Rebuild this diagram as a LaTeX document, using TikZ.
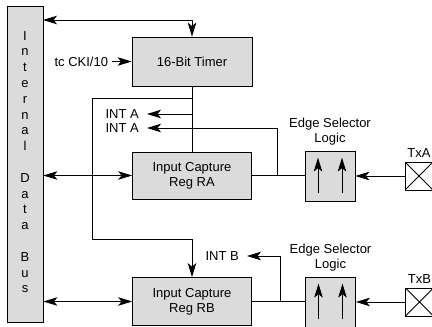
\documentclass[tikz,border=0pt]{standalone}
\usepackage{fontspec}
\setmainfont{Liberation Sans}
\usetikzlibrary{arrows.meta,positioning}

\begin{document}
\begin{tikzpicture}[x=1pt, y=-1pt,
    every node/.style={font=\fontsize{13}{15}\selectfont},
    block/.style={draw, fill=gray!28, line width=0.8pt, inner sep=0pt, align=center},
    padbox/.style={draw, line width=0.8pt, minimum size=28pt, inner sep=0pt,
        path picture={\draw (path picture bounding box.south west) -- (path picture bounding box.north east)
            (path picture bounding box.north west) -- (path picture bounding box.south east);}},
    wire/.style={line width=0.8pt},
    arr/.style={wire, -{Stealth[length=14pt, width=8.5pt, inset=3.5pt]}},
    biarr/.style={wire, {Stealth[length=14pt, width=8.5pt, inset=3.5pt]}-{Stealth[length=14pt, width=8.5pt, inset=3.5pt]}}]
    \useasboundingbox (0,0) rectangle (432,327);
    % internal data bus
    \node[block, minimum width=36pt, minimum height=316pt] (bus) at (25,164) {};
    \foreach \c [count=\i] in {I,n,t,e,r,n,a,l,,D,a,t,a,,B,u,s}
        \node[anchor=base] (bus-\i) at (25, {40+15.8*(\i-1)}) {\c};
    % timer and capture registers
    \node[block, minimum width=120pt, minimum height=49pt] (timer) at (192,61.5) {16-Bit Timer};
    \node[block, minimum width=119pt, minimum height=47pt] (regA) at (192,175.5) {Input Capture\\Reg RA};
    \node[block, minimum width=119pt, minimum height=48pt] (regB) at (192,301.5) {Input Capture\\Reg RB};
    % edge selectors and pins
    \node[block, minimum size=50pt] (edgeA) at (330,176) {};
    \node[block, minimum size=50pt] (edgeB) at (330.5,302) {};
    \node[above=2pt of edgeA, align=center] (edgeAlbl) {Edge Selector\\Logic};
    \node[above=2pt of edgeB, align=center] (edgeBlbl) {Edge Selector\\Logic};
    \node[padbox] (txA) at (419,176) {};
    \node[padbox] (txB) at (419.5,302) {};
    \node[above=1pt of txA] (txAlbl) {TxA};
    \node[above=1pt of txB] (txBlbl) {TxB};
    \foreach \b in {edgeA,edgeB}
        \foreach \dx in {-12,12}
            \draw[arr] ([xshift=\dx pt, yshift=8pt]\b.south) -- ([xshift=\dx pt, yshift=-7pt]\b.north);
    % clock and interrupt labels
    \node[left=20pt of timer] (clk) {tc CKI/10};
    \node[anchor=east, inner xsep=8pt] (intA1) at (147,114) {INT A};
    \node[anchor=east, inner xsep=8pt] (intA2) at (147,128) {INT A};
    \node[anchor=east, inner xsep=8pt] (intB) at (247,256) {INT B};
    \coordinate (busTop) at (43,20);
    \coordinate (tapA) at (277,175.5);
    \coordinate (tapB) at (280,301.5);
    % connections
    \draw[biarr] (busTop) -| (timer.north);
    \draw[arr] (clk) -- (timer);
    \draw[biarr] (bus.east |- regA.west) -- (regA.west);
    \draw[biarr] (bus.east |- regB.west) -- (regB.west);
    \draw[wire] (timer.south) -- (timer.south |- regA.north);
    \draw[arr] (timer.south |- intA1) -- (intA1);
    \draw[arr] ([yshift=-12pt]timer.south) -- ++(-100,0) -- ++(0,141) -| (regB.north);
    \draw[wire] (regA.east) -- (regA.east -| edgeA.west);
    \draw[wire] (regB.east) -- (regB.east -| edgeB.west);
    \draw[arr] (tapA) |- (intA2);
    \draw[arr] (tapB) |- (intB);
    \draw[arr] (txA) -- (edgeA);
    \draw[arr] (txB) -- (edgeB);
\end{tikzpicture}
\end{document}
